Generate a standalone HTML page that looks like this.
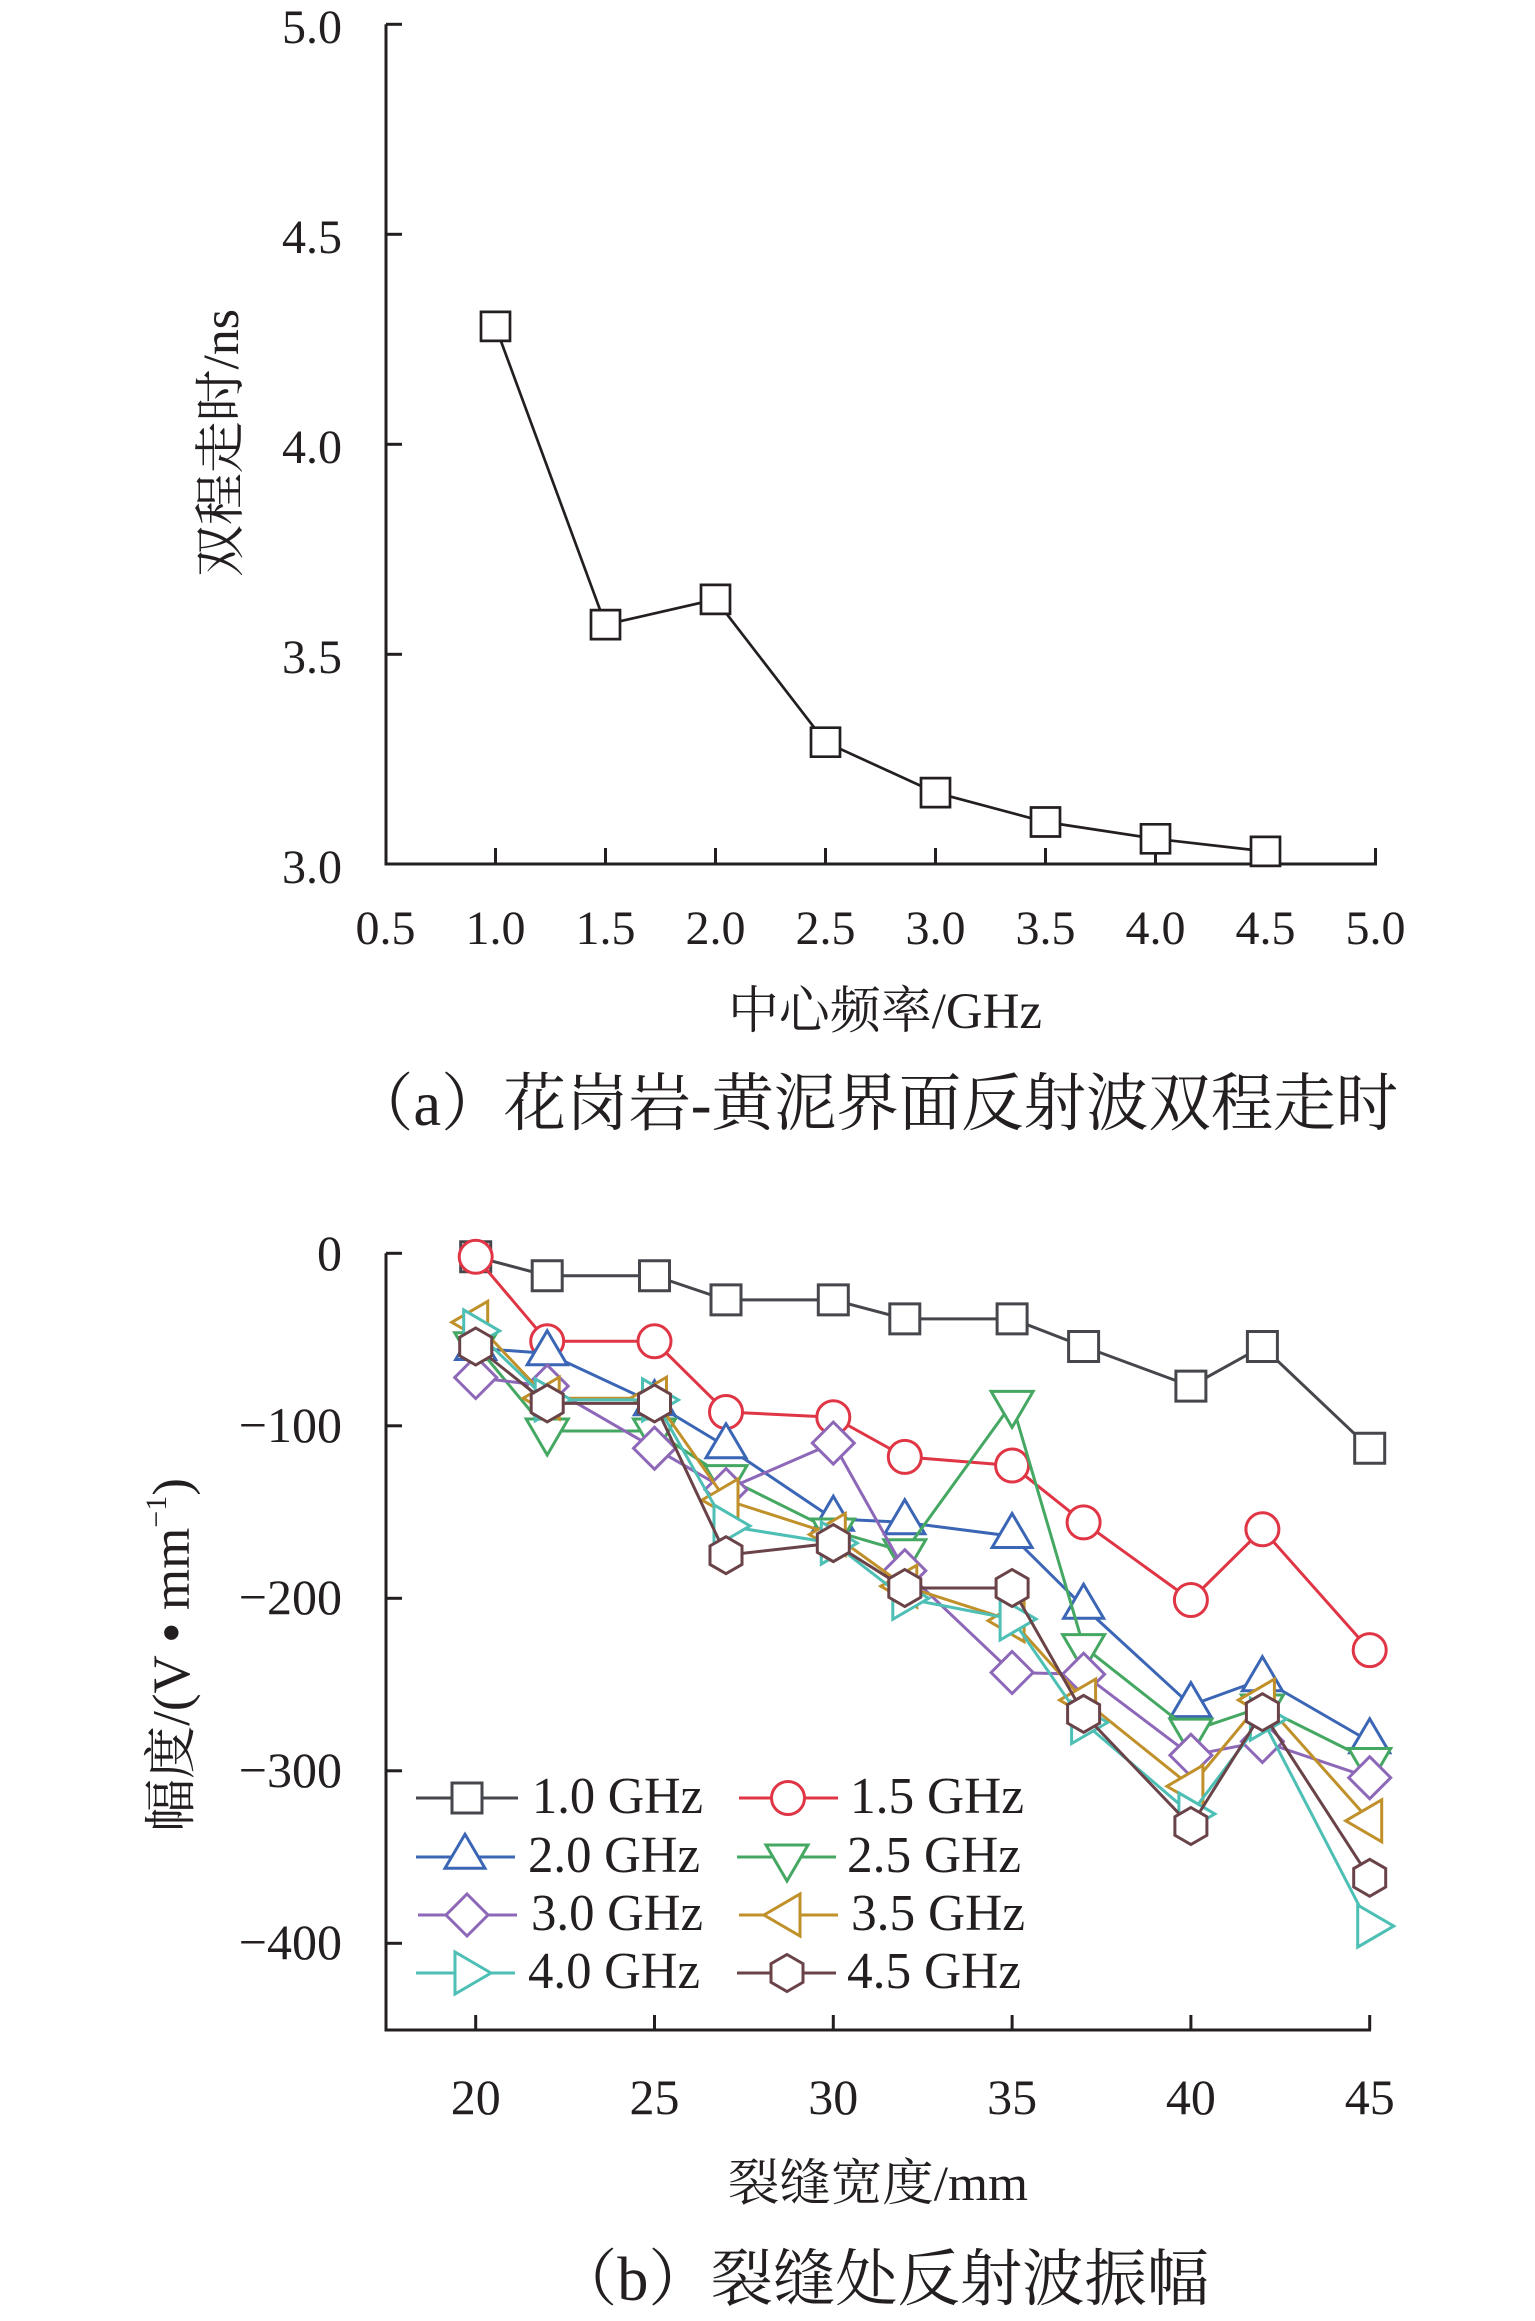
<!DOCTYPE html>
<html>
<head>
<meta charset="utf-8">
<style>
html,body{margin:0;padding:0;background:#fff;}
svg{display:block;}
text{font-family:"Liberation Serif","Noto Serif CJK SC",serif;fill:#231f20;}
</style>
</head>
<body>
<svg width="1535" height="2321" viewBox="0 0 1535 2321" xmlns="http://www.w3.org/2000/svg">
<defs>
<path id="sqa" d="M-14.5,-14.5h29v29h-29z"/>
<path id="sq" d="M-15,-15h30v30h-30z"/>
<circle id="ci" cx="0" cy="0" r="16.5"/>
<path id="tu" d="M0,-22.7L20,11.3L-20,11.3Z"/>
<path id="td" d="M-21,-12L21,-12L0,24Z"/>
<path id="tl" d="M-24,0L12,-21L12,21Z"/>
<path id="tr" d="M24,0L-12,-21L-12,21Z"/>
<path id="di" d="M0,-21L21,0L0,21L-21,0Z"/>
<path id="hx" d="M0,-18.5L16,-9.25L16,9.25L0,18.5L-16,9.25L-16,-9.25Z"/>
</defs>
<rect width="1535" height="2321" fill="#fff"/>

<!-- ================= Chart (a) ================= -->
<g stroke="#231f20" stroke-width="3" fill="none">
  <line x1="386" y1="24.3" x2="386" y2="864"/>
  <line x1="384.5" y1="864" x2="1377" y2="864"/>
  <line x1="386" y1="24.3" x2="402" y2="24.3"/>
  <line x1="386" y1="234.3" x2="402" y2="234.3"/>
  <line x1="386" y1="444.3" x2="402" y2="444.3"/>
  <line x1="386" y1="654.3" x2="402" y2="654.3"/>
  <line x1="495.5" y1="864" x2="495.5" y2="848"/>
  <line x1="605.5" y1="864" x2="605.5" y2="848"/>
  <line x1="715.5" y1="864" x2="715.5" y2="848"/>
  <line x1="825.5" y1="864" x2="825.5" y2="848"/>
  <line x1="935.5" y1="864" x2="935.5" y2="848"/>
  <line x1="1045.5" y1="864" x2="1045.5" y2="848"/>
  <line x1="1155.5" y1="864" x2="1155.5" y2="848"/>
  <line x1="1265.5" y1="864" x2="1265.5" y2="848"/>
  <line x1="1375.5" y1="864" x2="1375.5" y2="848"/>
</g>
<g font-size="48" text-anchor="end">
  <text x="342" y="43">5.0</text>
  <text x="342" y="253">4.5</text>
  <text x="342" y="463">4.0</text>
  <text x="342" y="673">3.5</text>
  <text x="342" y="883">3.0</text>
</g>
<g font-size="48" text-anchor="middle">
  <text x="385.5" y="944">0.5</text>
  <text x="495.5" y="944">1.0</text>
  <text x="605.5" y="944">1.5</text>
  <text x="715.5" y="944">2.0</text>
  <text x="825.5" y="944">2.5</text>
  <text x="935.5" y="944">3.0</text>
  <text x="1045.5" y="944">3.5</text>
  <text x="1155.5" y="944">4.0</text>
  <text x="1265.5" y="944">4.5</text>
  <text x="1375.5" y="944">5.0</text>
</g>
<g stroke="#231f20" stroke-width="2.7" fill="#fff">
  <polyline fill="none" points="495.5,326.4 605.5,624.6 715.5,599.4 825.5,742.2 935.5,792.6 1045.5,822 1155.5,838.8 1265.5,851.4"/>
  <use href="#sqa" x="495.5" y="326.4"/>
  <use href="#sqa" x="605.5" y="624.6"/>
  <use href="#sqa" x="715.5" y="599.4"/>
  <use href="#sqa" x="825.5" y="742.2"/>
  <use href="#sqa" x="935.5" y="792.6"/>
  <use href="#sqa" x="1045.5" y="822"/>
  <use href="#sqa" x="1155.5" y="838.8"/>
  <use href="#sqa" x="1265.5" y="851.4"/>
</g>
<text transform="translate(238,443) rotate(-90)" font-size="51" text-anchor="middle" textLength="268" lengthAdjust="spacingAndGlyphs">双程走时/ns</text>
<text x="728" y="1028" font-size="51" textLength="314" lengthAdjust="spacingAndGlyphs">中心频率/GHz</text>
<text x="351" y="1125" font-size="63" textLength="1047" lengthAdjust="spacingAndGlyphs">（a）花岗岩-黄泥界面反射波双程走时</text>

<!-- ================= Chart (b) ================= -->
<g stroke="#231f20" stroke-width="3" fill="none">
  <line x1="386" y1="1253.3" x2="386" y2="2030"/>
  <line x1="384.5" y1="2030" x2="1371" y2="2030"/>
  <line x1="386" y1="1253.3" x2="402" y2="1253.3"/>
  <line x1="386" y1="1425.8" x2="402" y2="1425.8"/>
  <line x1="386" y1="1598.3" x2="402" y2="1598.3"/>
  <line x1="386" y1="1770.8" x2="402" y2="1770.8"/>
  <line x1="386" y1="1943.3" x2="402" y2="1943.3"/>
  <line x1="475.7" y1="2030" x2="475.7" y2="2015"/>
  <line x1="654.5" y1="2030" x2="654.5" y2="2015"/>
  <line x1="833.3" y1="2030" x2="833.3" y2="2015"/>
  <line x1="1012.1" y1="2030" x2="1012.1" y2="2015"/>
  <line x1="1190.9" y1="2030" x2="1190.9" y2="2015"/>
  <line x1="1369.7" y1="2030" x2="1369.7" y2="2015"/>
</g>
<g font-size="50" text-anchor="end">
  <text x="342" y="1270">0</text>
  <text x="342" y="1442">−100</text>
  <text x="342" y="1614">−200</text>
  <text x="342" y="1787">−300</text>
  <text x="342" y="1959">−400</text>
</g>
<g font-size="50" text-anchor="middle">
  <text x="475.7" y="2114">20</text>
  <text x="654.5" y="2114">25</text>
  <text x="833.3" y="2114">30</text>
  <text x="1012.1" y="2114">35</text>
  <text x="1190.9" y="2114">40</text>
  <text x="1369.7" y="2114">45</text>
</g>

<!-- 1.0 GHz -->
<g stroke="#45474c" stroke-width="3" fill="#fff">
  <polyline fill="none" points="475.7,1256.8 547.2,1275.7 654.5,1275.7 726,1299.9 833.3,1299.9 904.8,1318.9 1012.1,1318.9 1083.6,1346.5 1190.9,1386.1 1262.4,1346.5 1369.7,1448.2"/>
  <use href="#sq" x="475.7" y="1256.8"/><use href="#sq" x="547.2" y="1275.7"/><use href="#sq" x="654.5" y="1275.7"/><use href="#sq" x="726" y="1299.9"/><use href="#sq" x="833.3" y="1299.9"/><use href="#sq" x="904.8" y="1318.9"/><use href="#sq" x="1012.1" y="1318.9"/><use href="#sq" x="1083.6" y="1346.5"/><use href="#sq" x="1190.9" y="1386.1"/><use href="#sq" x="1262.4" y="1346.5"/><use href="#sq" x="1369.7" y="1448.2"/>
</g>
<!-- 1.5 GHz -->
<g stroke="#e03545" stroke-width="3" fill="#fff">
  <polyline fill="none" points="475.7,1256.8 547.2,1341.3 654.5,1341.3 726,1412 833.3,1417.2 904.8,1456.9 1012.1,1465.5 1083.6,1522.4 1190.9,1600 1262.4,1529.3 1369.7,1650.1"/>
  <use href="#ci" x="475.7" y="1256.8"/><use href="#ci" x="547.2" y="1341.3"/><use href="#ci" x="654.5" y="1341.3"/><use href="#ci" x="726" y="1412"/><use href="#ci" x="833.3" y="1417.2"/><use href="#ci" x="904.8" y="1456.9"/><use href="#ci" x="1012.1" y="1465.5"/><use href="#ci" x="1083.6" y="1522.4"/><use href="#ci" x="1190.9" y="1600"/><use href="#ci" x="1262.4" y="1529.3"/><use href="#ci" x="1369.7" y="1650.1"/>
</g>
<!-- 2.0 GHz -->
<g stroke="#3b66b5" stroke-width="3" fill="#fff">
  <polyline fill="none" points="475.7,1348.2 547.2,1353.4 654.5,1403.4 726,1446.5 833.3,1518.9 904.8,1522.4 1012.1,1536.2 1083.6,1606.9 1190.9,1705.3 1262.4,1679.4 1369.7,1741.5"/>
  <use href="#tu" x="475.7" y="1348.2"/><use href="#tu" x="547.2" y="1353.4"/><use href="#tu" x="654.5" y="1403.4"/><use href="#tu" x="726" y="1446.5"/><use href="#tu" x="833.3" y="1518.9"/><use href="#tu" x="904.8" y="1522.4"/><use href="#tu" x="1012.1" y="1536.2"/><use href="#tu" x="1083.6" y="1606.9"/><use href="#tu" x="1190.9" y="1705.3"/><use href="#tu" x="1262.4" y="1679.4"/><use href="#tu" x="1369.7" y="1741.5"/>
</g>
<!-- 2.5 GHz -->
<g stroke="#45a862" stroke-width="3" fill="#fff">
  <polyline fill="none" points="475.7,1344.7 547.2,1431 654.5,1431 726,1477.6 833.3,1531 904.8,1551.7 1012.1,1403.4 1083.6,1646.6 1190.9,1731.1 1262.4,1707 1369.7,1760.5"/>
  <use href="#td" x="475.7" y="1344.7"/><use href="#td" x="547.2" y="1431"/><use href="#td" x="654.5" y="1431"/><use href="#td" x="726" y="1477.6"/><use href="#td" x="833.3" y="1531"/><use href="#td" x="904.8" y="1551.7"/><use href="#td" x="1012.1" y="1403.4"/><use href="#td" x="1083.6" y="1646.6"/><use href="#td" x="1190.9" y="1731.1"/><use href="#td" x="1262.4" y="1707"/><use href="#td" x="1369.7" y="1760.5"/>
</g>
<!-- 3.0 GHz -->
<g stroke="#8e68b8" stroke-width="3" fill="#fff">
  <polyline fill="none" points="475.7,1377.5 547.2,1386.1 654.5,1448.2 726,1489.6 833.3,1443.1 904.8,1570.7 1012.1,1672.5 1083.6,1674.2 1190.9,1755.3 1262.4,1741.5 1369.7,1777.7"/>
  <use href="#di" x="475.7" y="1377.5"/><use href="#di" x="547.2" y="1386.1"/><use href="#di" x="654.5" y="1448.2"/><use href="#di" x="726" y="1489.6"/><use href="#di" x="833.3" y="1443.1"/><use href="#di" x="904.8" y="1570.7"/><use href="#di" x="1012.1" y="1672.5"/><use href="#di" x="1083.6" y="1674.2"/><use href="#di" x="1190.9" y="1755.3"/><use href="#di" x="1262.4" y="1741.5"/><use href="#di" x="1369.7" y="1777.7"/>
</g>
<!-- 3.5 GHz -->
<g stroke="#c0902a" stroke-width="3" fill="#fff">
  <polyline fill="none" points="475.7,1322.3 547.2,1398.2 654.5,1398.2 726,1500 833.3,1534.5 904.8,1586.2 1012.1,1620.7 1083.6,1700.1 1190.9,1786.3 1262.4,1700.1 1369.7,1820.8"/>
  <use href="#tl" x="475.7" y="1322.3"/><use href="#tl" x="547.2" y="1398.2"/><use href="#tl" x="654.5" y="1398.2"/><use href="#tl" x="726" y="1500"/><use href="#tl" x="833.3" y="1534.5"/><use href="#tl" x="904.8" y="1586.2"/><use href="#tl" x="1012.1" y="1620.7"/><use href="#tl" x="1083.6" y="1700.1"/><use href="#tl" x="1190.9" y="1786.3"/><use href="#tl" x="1262.4" y="1700.1"/><use href="#tl" x="1369.7" y="1820.8"/>
</g>
<!-- 4.0 GHz -->
<g stroke="#4dbfb5" stroke-width="3" fill="#fff">
  <polyline fill="none" points="475.7,1330.9 547.2,1399.9 654.5,1399.9 726,1525.9 833.3,1543.1 904.8,1598.3 1012.1,1619 1083.6,1722.5 1190.9,1813.9 1262.4,1719.1 1369.7,1926.1"/>
  <use href="#tr" x="475.7" y="1330.9"/><use href="#tr" x="547.2" y="1399.9"/><use href="#tr" x="654.5" y="1399.9"/><use href="#tr" x="726" y="1525.9"/><use href="#tr" x="833.3" y="1543.1"/><use href="#tr" x="904.8" y="1598.3"/><use href="#tr" x="1012.1" y="1619"/><use href="#tr" x="1083.6" y="1722.5"/><use href="#tr" x="1190.9" y="1813.9"/><use href="#tr" x="1262.4" y="1719.1"/><use href="#tr" x="1369.7" y="1926.1"/>
</g>
<!-- 4.5 GHz -->
<g stroke="#6a4348" stroke-width="3" fill="#fff">
  <polyline fill="none" points="475.7,1346.5 547.2,1403.4 654.5,1403.4 726,1555.2 833.3,1543.1 904.8,1588 1012.1,1588 1083.6,1713.9 1190.9,1826 1262.4,1712.2 1369.7,1877.8"/>
  <use href="#hx" x="475.7" y="1346.5"/><use href="#hx" x="547.2" y="1403.4"/><use href="#hx" x="654.5" y="1403.4"/><use href="#hx" x="726" y="1555.2"/><use href="#hx" x="833.3" y="1543.1"/><use href="#hx" x="904.8" y="1588"/><use href="#hx" x="1012.1" y="1588"/><use href="#hx" x="1083.6" y="1713.9"/><use href="#hx" x="1190.9" y="1826"/><use href="#hx" x="1262.4" y="1712.2"/><use href="#hx" x="1369.7" y="1877.8"/>
</g>

<!-- Legend -->
<g stroke-width="3" fill="#fff">
  <g stroke="#45474c"><line x1="416" y1="1798" x2="518" y2="1798"/><use href="#sq" x="467" y="1798"/></g>
  <g stroke="#e03545"><line x1="739" y1="1798" x2="838" y2="1798"/><use href="#ci" x="788" y="1798"/></g>
  <g stroke="#3b66b5"><line x1="416" y1="1857" x2="515" y2="1857"/><use href="#tu" x="465" y="1857"/></g>
  <g stroke="#45a862"><line x1="737" y1="1857" x2="836" y2="1857"/><use href="#td" x="787" y="1857"/></g>
  <g stroke="#8e68b8"><line x1="418" y1="1915" x2="517" y2="1915"/><use href="#di" x="467" y="1915"/></g>
  <g stroke="#c0902a"><line x1="739" y1="1915" x2="838" y2="1915"/><use href="#tl" x="788" y="1915"/></g>
  <g stroke="#4dbfb5"><line x1="416" y1="1973" x2="515" y2="1973"/><use href="#tr" x="467" y="1973"/></g>
  <g stroke="#6a4348"><line x1="737" y1="1973" x2="836" y2="1973"/><use href="#hx" x="787" y="1973"/></g>
</g>
<g font-size="52">
  <text x="532" y="1813" textLength="171" lengthAdjust="spacingAndGlyphs">1.0 GHz</text>
  <text x="850" y="1813" textLength="174" lengthAdjust="spacingAndGlyphs">1.5 GHz</text>
  <text x="528" y="1872" textLength="172" lengthAdjust="spacingAndGlyphs">2.0 GHz</text>
  <text x="847" y="1872" textLength="174" lengthAdjust="spacingAndGlyphs">2.5 GHz</text>
  <text x="531" y="1930" textLength="172" lengthAdjust="spacingAndGlyphs">3.0 GHz</text>
  <text x="851" y="1930" textLength="174" lengthAdjust="spacingAndGlyphs">3.5 GHz</text>
  <text x="528" y="1988" textLength="172" lengthAdjust="spacingAndGlyphs">4.0 GHz</text>
  <text x="847" y="1988" textLength="174" lengthAdjust="spacingAndGlyphs">4.5 GHz</text>
</g>

<text transform="translate(189,1655) rotate(-90)" font-size="53" text-anchor="middle">幅度/(V<tspan font-weight="bold"> • </tspan>mm<tspan dy="-23" font-size="30">−1</tspan><tspan dy="23">)</tspan></text>
<text x="728" y="2200" font-size="50" textLength="300" lengthAdjust="spacingAndGlyphs">裂缝宽度/mm</text>
<text x="555" y="2300" font-size="62" textLength="654" lengthAdjust="spacingAndGlyphs">（b）裂缝处反射波振幅</text>
</svg>
</body>
</html>
